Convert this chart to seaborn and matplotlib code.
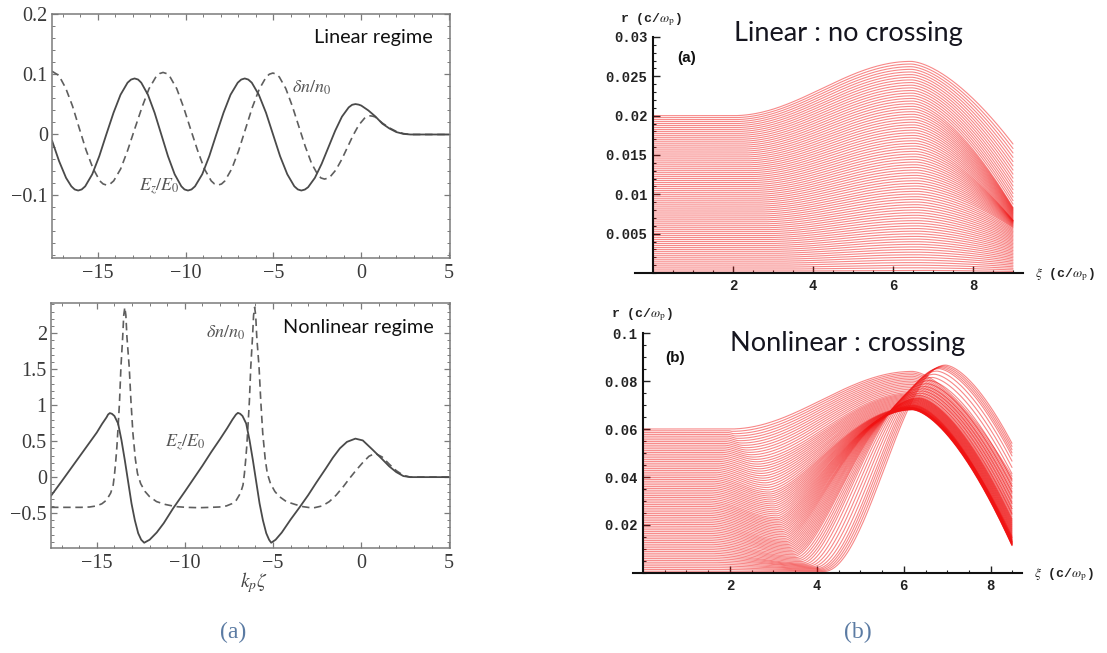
import numpy as np
import pandas as pd
import matplotlib
matplotlib.use("Agg")
import matplotlib.pyplot as plt
from matplotlib.ticker import MultipleLocator
import seaborn as sns

# ---------------- data ----------------
# (a) top: linear regime
lin_ez_xi = [-17.6, -17.2, -16.8, -16.5, -16.31, -16.11, -15.91,
             -15.71, -15.31, -14.91, -14.51, -14.10, -13.70, -13.30, -13.10, -12.90, -12.70,
             -12.52, -12.14, -11.76, -11.38, -11.00, -10.62, -10.24, -10.06, -9.86, -9.66,
             -9.46, -9.05, -8.65, -8.25, -7.84, -7.44, -7.03, -6.83, -6.63, -6.43,
             -6.23, -5.83, -5.42, -5.02, -4.62, -4.21, -3.81, -3.61, -3.41, -3.21,
             -3.025, -2.64, -2.255, -1.87, -1.485, -1.10, -0.715, -0.52, -0.33, -0.15,
             0.0, 0.4, 0.8, 1.2, 1.6, 2.0, 2.4, 2.8, 3.5, 5.0]
lin_ez = [-0.010, -0.044, -0.072, -0.086, -0.0912, -0.093, -0.0912,
          -0.086, -0.066, -0.036, 0.000, 0.036, 0.066, 0.086, 0.0912, 0.093, 0.0912,
          0.086, 0.066, 0.036, 0.000, -0.036, -0.066, -0.086, -0.0912, -0.093, -0.0912,
          -0.086, -0.066, -0.036, 0.000, 0.036, 0.066, 0.086, 0.0912, 0.093, 0.0912,
          0.086, 0.066, 0.036, 0.000, -0.036, -0.066, -0.086, -0.0912, -0.093, -0.0914,
          -0.0875, -0.072, -0.0487, -0.0213, 0.0062, 0.0296, 0.045, 0.0493, 0.0505, 0.0496,
          0.048, 0.040, 0.030, 0.018, 0.010, 0.004, 0.001, 0.0, 0.0, 0.0]
lin_dn_xi = [-17.6, -17.21, -16.82, -16.43, -16.05, -15.66, -15.27, -14.88, -14.69, -14.49, -14.29,
             -14.09, -13.69, -13.29, -12.89, -12.48, -12.08, -11.68, -11.48, -11.28, -11.08,
             -10.89, -10.50, -10.11, -9.72, -9.32, -8.93, -8.54, -8.35, -8.15, -7.95,
             -7.76, -7.37, -6.98, -6.59, -6.20, -5.81, -5.42, -5.23, -5.03, -4.83,
             -4.66, -4.295, -3.93, -3.56, -3.19, -2.825, -2.46, -2.29, -2.09, -1.89,
             -1.765, -1.44, -1.115, -0.79, -0.465, -0.14, 0.185, 0.35, 0.51, 0.66,
             0.8, 1.2, 1.6, 2.0, 2.4, 2.8, 3.5, 5.0]
lin_dn = [0.105, 0.098, 0.077, 0.047, 0.0105, -0.026, -0.056, -0.077, -0.0821, -0.084, -0.0821,
          -0.077, -0.057, -0.026, 0.0095, 0.045, 0.076, 0.096, 0.1011, 0.103, 0.1011,
          0.096, 0.076, 0.045, 0.0095, -0.026, -0.057, -0.077, -0.0821, -0.084, -0.0821,
          -0.077, -0.057, -0.027, 0.009, 0.045, 0.075, 0.095, 0.1001, 0.102, 0.1001,
          0.0953, 0.0763, 0.0476, 0.014, -0.0196, -0.0483, -0.0673, -0.0722, -0.074, -0.0724,
          -0.070, -0.0587, -0.0416, -0.0215, -0.0014, 0.0157, 0.027, 0.0302, 0.031, 0.0303,
          0.029, 0.019, 0.011, 0.005, 0.0015, 0.0, 0.0, 0.0]

# (a) bottom: nonlinear regime
nl_ez_xi = [-17.6, -17.0, -16.5, -16.0, -15.5, -15.0, -14.7, -14.45, -14.36, -14.26, -14.14,
            -14.0, -13.79, -13.6, -13.41, -13.22, -13.03, -12.84, -12.65, -12.48, -12.31,
            -12.0, -11.6, -11.2, -10.67, -10.0, -9.5, -9.0, -8.5, -8.0, -7.6, -7.3, -7.1, -6.99, -6.86,
            -6.73, -6.52, -6.33, -6.14, -5.95, -5.76, -5.57, -5.38, -5.22, -5.1,
            -4.85, -4.5, -4.0, -3.49, -3.0, -2.55, -2.0, -1.6, -1.2, -0.8, -0.32,
            0.1, 0.66, 1.2, 1.6, 2.0, 2.4, 2.8, 5.0]
nl_ez = [-0.26, -0.06, 0.11, 0.28, 0.45, 0.62, 0.74, 0.83, 0.87, 0.89, 0.88,
         0.85, 0.745, 0.514, 0.236, -0.065, -0.366, -0.60, -0.78, -0.87, -0.912,
         -0.87, -0.77, -0.64, -0.435, -0.20, -0.02, 0.16, 0.35, 0.53, 0.68, 0.80, 0.87, 0.893, 0.88,
         0.85, 0.745, 0.514, 0.236, -0.065, -0.366, -0.60, -0.78, -0.87, -0.912,
         -0.87, -0.77, -0.59, -0.42, -0.25, -0.08, 0.12, 0.27, 0.40, 0.49, 0.535,
         0.51, 0.38, 0.25, 0.15, 0.07, 0.015, 0.0, 0.0]
nl_dn_xi = [-17.6, -16.5, -15.9, -15.41, -15.01, -14.71, -14.45, -14.21, -14.07, -13.99,
            -13.92, -13.86, -13.79, -13.71, -13.63, -13.53, -13.47, -13.41, -13.35, -13.29,
            -13.16, -13.06, -12.95, -12.81, -12.69, -12.51, -12.26, -12.01, -11.61, -11.11,
            -10.51, -9.91, -9.2, -8.54,
            -8.04, -7.64, -7.34, -7.08, -6.84, -6.70, -6.62, -6.55, -6.49, -6.42,
            -6.34, -6.26, -6.16, -6.10, -6.04, -5.98, -5.92, -5.79, -5.69, -5.58,
            -5.44, -5.32, -5.14, -4.89, -4.64, -4.24, -3.74, -3.3, -2.74,
            -2.2, -1.8, -1.41, -1.0, -0.66, -0.3, 0.09, 0.45, 0.8, 1.2,
            1.6, 2.0, 2.4, 2.8, 5.0]
nl_dn = [-0.42, -0.42, -0.42, -0.415, -0.40, -0.37, -0.32, -0.22, -0.11, 0.05,
         0.236, 0.42, 0.70, 1.05, 1.53, 1.95, 2.25, 2.36, 2.25, 1.95,
         1.53, 1.05, 0.61, 0.25, 0.05, -0.09, -0.2, -0.27, -0.34, -0.38,
         -0.41, -0.42, -0.425, -0.42,
         -0.415, -0.40, -0.37, -0.32, -0.22, -0.11, 0.05, 0.236, 0.42, 0.70,
         1.05, 1.53, 1.95, 2.25, 2.36, 2.25, 1.95, 1.53, 1.05, 0.61,
         0.25, 0.05, -0.09, -0.2, -0.27, -0.34, -0.38, -0.41, -0.43,
         -0.40, -0.34, -0.25, -0.13, -0.02, 0.09, 0.20, 0.29, 0.33, 0.28,
         0.18, 0.09, 0.025, 0.0, 0.0]

left_xticks = [-15, -10, -5, 0, 5]
left_xlabels = ["\u221215", "\u221210", "\u22125", "0", "5"]
lin_yticks = [-0.1, 0, 0.1, 0.2]
lin_ylabels = ["\u22120.1", "0", "0.1", "0.2"]
nl_yticks = [-0.5, 0, 0.5, 1, 1.5, 2]
nl_ylabels = ["\u22120.5", "0", "0.5", "1", "1.5", "2"]

# (b) trajectory families: key initial radii and read shape parameters
lin_keys_r0 = [0.0, 0.004, 0.008, 0.012, 0.016, 0.020]
lin_rise_start = [3.0, 2.8, 2.6, 2.4, 2.2, 2.0]
lin_peak_xi = [6.6, 6.6, 6.6, 6.55, 6.5, 6.45]
lin_peak_ratio = [1.32, 1.33, 1.34, 1.345, 1.345, 1.345]
lin_end_ratio = [0.80, 0.76, 0.72, 0.56, 0.52, 0.82]
lin_end_xi = 9.0
lin_n_lines = 80
lin_r0_max = 0.02

nl_keys_r0 = [0.0, 0.004, 0.008, 0.012, 0.02, 0.03, 0.04, 0.05, 0.06]
nl_flat_end = [1.5, 1.5, 1.5, 1.5, 1.5, 1.5, 1.6, 1.8, 2.0]
nl_dip_xi = [4.2, 4.0, 3.7, 3.5, 3.3, 3.1, 2.9, 2.6, 2.0]
nl_dip_r = [0.0003, 0.002, 0.004, 0.007, 0.0135, 0.023, 0.034, 0.047, 0.060]
nl_rise_warp = [1.0, 0.95, 0.85, 0.8, 0.75, 0.75, 0.8, 0.9, 1.0]
nl_peak_xi = [7.0, 6.8, 6.5, 6.35, 6.25, 6.2, 6.2, 6.2, 6.2]
nl_peak_r = [0.087, 0.085, 0.078, 0.073, 0.070, 0.068, 0.069, 0.075, 0.084]
nl_end_r = [0.055, 0.048, 0.034, 0.022, 0.013, 0.011, 0.015, 0.026, 0.040]
nl_end_xi = 8.5
nl_n_lines = 80
nl_r0_max = 0.06


def trajectory(xi, r0, x0, xd, rd, xp, rp, xe, re, warp=1.0):
    r = np.full(xi.shape, r0, dtype=float)
    if xd > x0:
        m = (xi > x0) & (xi <= xd)
        t = (xi[m] - x0) / (xd - x0)
        r[m] = r0 + (rd - r0) * (1 - np.cos(np.pi * t)) / 2
    m = (xi > xd) & (xi <= xp)
    t = ((xi[m] - xd) / (xp - xd)) ** warp
    r[m] = rd + (rp - rd) * (1 - np.cos(np.pi * t)) / 2
    m = xi > xp
    t = (xi[m] - xp) / (xe - xp)
    r[m] = rp - (rp - re) * t ** 1.6
    return r


def linear_family():
    xi = np.arange(0, lin_end_xi + 1e-9, 0.03)
    rows = []
    for k in range(1, lin_n_lines + 1):
        r0 = lin_r0_max * k / lin_n_lines
        xs = np.interp(r0, lin_keys_r0, lin_rise_start)
        xp = np.interp(r0, lin_keys_r0, lin_peak_xi)
        rp = r0 * np.interp(r0, lin_keys_r0, lin_peak_ratio)
        re = r0 * np.interp(r0, lin_keys_r0, lin_end_ratio)
        r = trajectory(xi, r0, xs, xs, r0, xp, rp, lin_end_xi, re)
        rows.append(pd.DataFrame({"xi": xi, "r": r, "line": k}))
    return pd.concat(rows, ignore_index=True)


def nonlinear_family():
    xi = np.arange(0, nl_end_xi + 1e-9, 0.03)
    rows = []
    for k in range(1, nl_n_lines + 1):
        r0 = nl_r0_max * k / nl_n_lines
        g = lambda arr: np.interp(r0, nl_keys_r0, arr)
        rd = min(g(nl_dip_r), r0)
        r = trajectory(xi, r0, g(nl_flat_end), g(nl_dip_xi), rd,
                       g(nl_peak_xi), g(nl_peak_r), nl_end_xi, g(nl_end_r),
                       g(nl_rise_warp))
        rows.append(pd.DataFrame({"xi": xi, "r": r, "line": k}))
    return pd.concat(rows, ignore_index=True)


# ---------------- figure ----------------
sns.set_theme(style="white")
plt.rcParams["mathtext.fontset"] = "stix"
serif = ["Liberation Serif", "DejaVu Serif"]
plt.rcParams["font.family"] = serif

W, H = 1107, 653
fig = plt.figure(figsize=(W / 100, H / 100), dpi=100)
fig.patch.set_facecolor("white")


def fx(px):
    return px / W


def fy(py):
    return 1 - py / H


def add_axes_px(x0, y0, x1, y1):
    return fig.add_axes([fx(x0), fy(y1), (x1 - x0) / W, (y1 - y0) / H])


frame_col = "#7a7a7a"
solid_col = "#4a4a4a"
dash_col = "#5e5e5e"


def style_left(ax, ymin, yticks, ylabels):
    ax.set_facecolor("white")
    for s in ax.spines.values():
        s.set_color(frame_col)
        s.set_linewidth(1.1)
        s.set_visible(True)
    ax.set_xlim(-17.6, 5.05)
    ax.set_xticks(left_xticks)
    ax.set_xticklabels(left_xlabels, fontfamily=serif, fontsize=14.5, color="#3a3a3a")
    ax.xaxis.set_minor_locator(MultipleLocator(1))
    ax.set_yticks(yticks)
    ax.set_yticklabels(ylabels, fontfamily=serif, fontsize=14.5, color="#3a3a3a")
    ax.yaxis.set_minor_locator(MultipleLocator(ymin))
    ax.tick_params(which="both", direction="in", top=True, right=True,
                   bottom=True, left=True, color=frame_col)
    ax.tick_params(axis="x", pad=4)
    ax.tick_params(axis="y", pad=3)
    ax.tick_params(which="major", length=4.5, width=0.9)
    ax.tick_params(which="minor", length=2.2, width=0.7)
    ax.set_xlabel("")
    ax.set_ylabel("")
    ax.grid(False)


# (a) top
ax1 = add_axes_px(52, 14, 450, 258)
sns.lineplot(x=lin_dn_xi, y=lin_dn, ax=ax1, color=dash_col, lw=1.2,
             linestyle=(0, (4.5, 2.8)), sort=False)
sns.lineplot(x=lin_ez_xi, y=lin_ez, ax=ax1, color=solid_col, lw=1.3, sort=False)
ax1.set_ylim(-0.205, 0.2)
style_left(ax1, 0.02, lin_yticks, lin_ylabels)

# (a) bottom
ax2 = add_axes_px(51, 303, 450, 548)
sns.lineplot(x=nl_dn_xi, y=nl_dn, ax=ax2, color=dash_col, lw=1.2,
             linestyle=(0, (4.5, 2.8)), sort=False)
sns.lineplot(x=nl_ez_xi, y=nl_ez, ax=ax2, color=solid_col, lw=1.3, sort=False)
ax2.set_ylim(-0.985, 2.42)
style_left(ax2, 0.1, nl_yticks, nl_ylabels)

sans = ["Lato", "DejaVu Sans"]
fig.text(fx(373), fy(37), "Linear regime", family=sans, fontsize=14.3,
         ha="center", va="center", color="#111111")
fig.text(fx(358), fy(328), "Nonlinear regime", family=sans, fontsize=14.3,
         ha="center", va="center", color="#111111")
fig.text(fx(312), fy(88), r"$\delta n/n_{\mathit{0}}$", fontsize=13,
         ha="center", va="center", color="#555555")
fig.text(fx(159), fy(187), r"$E_z/E_{\mathit{0}}$", fontsize=13,
         ha="center", va="center", color="#555555")
fig.text(fx(226), fy(333), r"$\delta n/n_{\mathit{0}}$", fontsize=13,
         ha="center", va="center", color="#555555")
fig.text(fx(185), fy(443), r"$E_z/E_{\mathit{0}}$", fontsize=13,
         ha="center", va="center", color="#555555")
fig.text(fx(254), fy(583), r"$k_p\zeta$", fontsize=14,
         ha="center", va="center", color="#444444")
fig.text(fx(233), fy(632), "(a)", family=serif, fontsize=17, ha="center",
         va="center", color="#5b7ba3")
fig.text(fx(858), fy(632), "(b)", family=serif, fontsize=17, ha="center",
         va="center", color="#5b7ba3")

# (b) trajectories
line_col = "#f01212"
mono = ["Liberation Mono", "DejaVu Sans Mono"]


def style_right(ax, xlim, ylim, yticks, ylabels, yminor):
    ax.set_facecolor("white")
    ax.set_xlim(*xlim)
    ax.set_ylim(*ylim)
    for s in ["top", "right"]:
        ax.spines[s].set_visible(False)
    ax.spines["left"].set_position(("data", 0))
    for s in ["left", "bottom"]:
        ax.spines[s].set_color("#111111")
        ax.spines[s].set_linewidth(1.5)
        ax.spines[s].set_visible(True)
    ax.set_xticks([2, 4, 6, 8])
    ax.set_xticklabels(["2", "4", "6", "8"], fontfamily=mono, fontweight="bold",
                       fontsize=10, color="#222222")
    ax.xaxis.set_minor_locator(MultipleLocator(0.5))
    ax.set_yticks(yticks)
    ax.set_yticklabels(ylabels, fontfamily=mono, fontweight="bold",
                       fontsize=10, color="#222222")
    ax.yaxis.set_minor_locator(MultipleLocator(yminor))
    ax.tick_params(which="both", direction="in", color="#222222",
                   bottom=True, left=True, top=False, right=False, pad=4)
    ax.tick_params(which="major", length=5, width=1)
    ax.tick_params(which="minor", length=2.5, width=0.8)
    ax.set_xlabel("")
    ax.set_ylabel("")
    ax.grid(False)


ax3 = add_axes_px(635, 37, 1023, 273)
sns.lineplot(data=linear_family(), x="xi", y="r", units="line", estimator=None,
             color=line_col, lw=0.8, alpha=0.5, ax=ax3, legend=False)
style_right(ax3, (-0.45, 9.25), (0, 0.03),
            [0.005, 0.01, 0.015, 0.02, 0.025, 0.03],
            ["0.005", "0.01", "0.015", "0.02", "0.025", "0.03"], 0.001)

ax4 = add_axes_px(633, 333, 1022, 573)
sns.lineplot(data=nonlinear_family(), x="xi", y="r", units="line", estimator=None,
             color=line_col, lw=0.8, alpha=0.5, ax=ax4, legend=False)
style_right(ax4, (-0.23, 8.72), (0, 0.1),
            [0.02, 0.04, 0.06, 0.08, 0.1],
            ["0.02", "0.04", "0.06", "0.08", "0.1"], 0.005)

for (x, y) in [(651, 20), (642, 315)]:
    fig.text(fx(x), fy(y), r"r (c/$\omega_{\rm p}$)", family=mono,
             fontweight="bold", fontsize=9.5, ha="center", va="center",
             color="#222222")
for (x, y) in [(1065, 275), (1064, 575)]:
    fig.text(fx(x), fy(y), r"$\xi$ (c/$\omega_{\rm p}$)", family=mono,
             fontweight="bold", fontsize=9.5, ha="center", va="center",
             color="#222222")

fig.text(fx(848), fy(33), "Linear : no crossing", family=sans, fontsize=19.5,
         ha="center", va="center", color="#15151f")
fig.text(fx(848), fy(343), "Nonlinear : crossing", family=sans, fontsize=19.5,
         ha="center", va="center", color="#15151f")
fig.text(fx(687), fy(58), "(a)", family=["Liberation Sans", "DejaVu Sans"],
         fontweight="bold", fontsize=11, ha="center", va="center", color="#111111")
fig.text(fx(675), fy(358), "(b)", family=["Liberation Sans", "DejaVu Sans"],
         fontweight="bold", fontsize=11, ha="center", va="center", color="#111111")

fig.savefig("out.png", dpi=100, facecolor="white")
